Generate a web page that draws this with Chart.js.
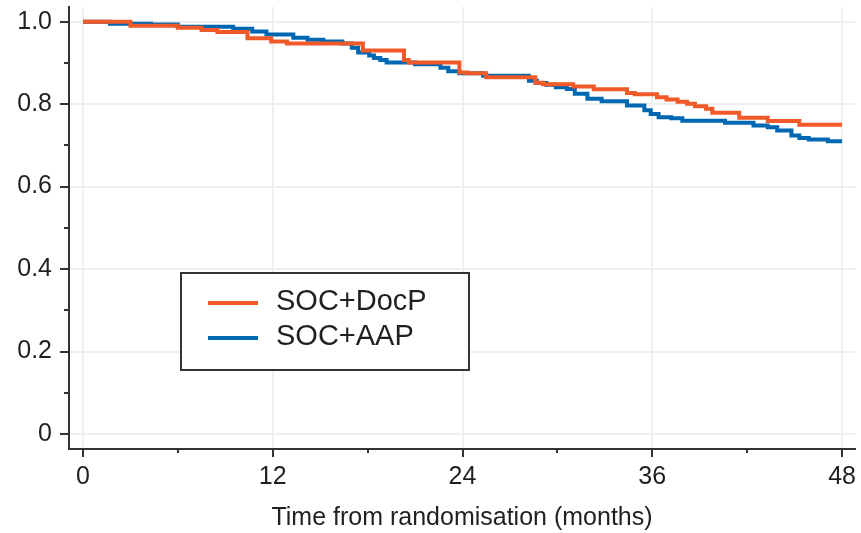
<!DOCTYPE html>
<html>
<head>
<meta charset="utf-8">
<script src="https://cdn.jsdelivr.net/npm/chart.js@4.4.0/dist/chart.umd.min.js"></script>
<style>
  body { margin: 0; background: #fff; }
  canvas { display: block; }
</style>
</head>
<body>
<canvas id="grafica" width="861" height="533"></canvas>
<script>
// DATOS (meses, supervivencia)
const docpMeses = [0, 3.0, 6.0, 7.5, 8.5, 10.4, 11.9, 12.9, 17.7, 20.3, 20.6, 23.8, 24.3, 25.5, 28.6, 29.1, 31.0, 32.3, 34.4, 34.9, 36.3, 36.9, 37.6, 38.2, 38.7, 39.4, 39.8, 41.5, 43.3, 45.3, 48];
const docpValores = [1.0, 0.99, 0.985, 0.98, 0.975, 0.96, 0.952, 0.947, 0.930, 0.907, 0.901, 0.877, 0.875, 0.865, 0.852, 0.848, 0.843, 0.836, 0.827, 0.824, 0.817, 0.811, 0.806, 0.801, 0.795, 0.789, 0.779, 0.767, 0.759, 0.750, 0.750];

const aapMeses = [0, 1.7, 4.3, 6.0, 9.5, 10.7, 11.6, 13.3, 14.2, 15.2, 16.4, 17.0, 17.4, 18.1, 18.4, 18.8, 19.2, 21.0, 22.6, 23.1, 23.8, 25.3, 28.2, 28.7, 29.3, 29.9, 30.6, 31.1, 31.9, 32.8, 34.4, 35.5, 35.9, 36.4, 37.2, 37.9, 40.6, 42.4, 43.3, 43.9, 44.8, 45.3, 45.9, 47.1, 48];
const aapValores = [1.0, 0.995, 0.993, 0.988, 0.983, 0.976, 0.969, 0.961, 0.956, 0.952, 0.947, 0.937, 0.925, 0.918, 0.912, 0.907, 0.901, 0.897, 0.888, 0.880, 0.875, 0.869, 0.857, 0.851, 0.847, 0.841, 0.837, 0.825, 0.813, 0.807, 0.797, 0.785, 0.776, 0.768, 0.766, 0.760, 0.755, 0.748, 0.744, 0.736, 0.724, 0.718, 0.714, 0.710, 0.710];

const series = ["SOC+DocP", "SOC+AAP"];
const colores = ["rgb(240,90,40)", "rgb(0,103,178)"];

const xTicks = [0, 12, 24, 36, 48];
const xMinor = [6, 18, 30, 42];
const yTicks = [0, 0.2, 0.4, 0.6, 0.8, 1.0];
const yMinor = [0.1, 0.3, 0.5, 0.7, 0.9];

const FUENTE = "'Liberation Sans', Arial, Helvetica, sans-serif";

function puntos(xs, ys) {
  return xs.map((x, i) => ({ x: x, y: ys[i] }));
}

// marcas de los ejes + leyenda
const extras = {
  id: 'extras',
  afterDraw(chart) {
    const ctx = chart.ctx;
    const ca = chart.chartArea;
    const sx = chart.scales.x, sy = chart.scales.y;
    ctx.save();
    ctx.strokeStyle = '#333';
    ctx.lineWidth = 2;
    ctx.beginPath();
    xTicks.forEach(v => { const p = Math.round(sx.getPixelForValue(v)); ctx.moveTo(p, ca.bottom); ctx.lineTo(p, ca.bottom + 8); });
    xMinor.forEach(v => { const p = Math.round(sx.getPixelForValue(v)); ctx.moveTo(p, ca.bottom); ctx.lineTo(p, ca.bottom + 4); });
    yTicks.forEach(v => { const p = Math.round(sy.getPixelForValue(v)); ctx.moveTo(ca.left, p); ctx.lineTo(ca.left - 9, p); });
    yMinor.forEach(v => { const p = Math.round(sy.getPixelForValue(v)); ctx.moveTo(ca.left, p); ctx.lineTo(ca.left - 5, p); });
    ctx.stroke();

    // leyenda
    ctx.fillStyle = '#fff';
    ctx.fillRect(181, 273, 288, 97);
    ctx.strokeStyle = '#333';
    ctx.lineWidth = 2;
    ctx.strokeRect(181, 273, 288, 97);
    const filas = [303, 338];
    chart.data.datasets.forEach((ds, i) => {
      ctx.strokeStyle = ds.borderColor;
      ctx.lineWidth = 4;
      ctx.beginPath();
      ctx.moveTo(208, filas[i]);
      ctx.lineTo(258, filas[i]);
      ctx.stroke();
      ctx.fillStyle = '#231f20';
      ctx.font = '29px ' + FUENTE;
      ctx.textBaseline = 'alphabetic';
      ctx.textAlign = 'left';
      ctx.fillText(ds.label, 276, filas[i] + 7);
    });
    ctx.restore();
  }
};

const micanvas = document.getElementById('grafica').getContext('2d');
const grafica = new Chart(micanvas, {
  type: 'line',
  data: {
    datasets: [
      { label: series[0], data: puntos(docpMeses, docpValores), borderColor: colores[0], backgroundColor: colores[0], borderWidth: 4, stepped: 'before', pointRadius: 0, fill: false },
      { label: series[1], data: puntos(aapMeses, aapValores), borderColor: colores[1], backgroundColor: colores[1], borderWidth: 4, stepped: 'before', pointRadius: 0, fill: false }
    ]
  },
  options: {
    responsive: false,
    animation: false,
    layout: { padding: { top: 7, right: 6, left: 0, bottom: 0 } },
    plugins: { legend: { display: false }, tooltip: { enabled: false } },
    scales: {
      x: {
        type: 'linear',
        min: -0.885,
        max: 48.82,
        afterBuildTicks: s => { s.ticks = xTicks.map(v => ({ value: v })); },
        afterFit: s => { s.height = 84; s.paddingLeft = 0; s.paddingRight = 0; },
        grid: { color: '#efefef', lineWidth: 2, drawTicks: false },
        border: { color: '#333', width: 2 },
        ticks: { color: '#231f20', font: { family: FUENTE, size: 25 }, padding: 13, autoSkip: false, maxRotation: 0 },
        title: { display: true, text: 'Time from randomisation (months)', color: '#231f20', font: { family: FUENTE, size: 25 }, padding: { top: 0, bottom: 0 } }
      },
      y: {
        min: -0.0364,
        max: 1.0356,
        afterBuildTicks: s => { s.ticks = yTicks.map(v => ({ value: v })); },
        afterFit: s => { s.width = 69; s.paddingTop = 0; s.paddingBottom = 0; },
        grid: { color: '#efefef', lineWidth: 2, drawTicks: false },
        border: { color: '#333', width: 2 },
        ticks: { color: '#231f20', font: { family: FUENTE, size: 25 }, padding: 17, autoSkip: false, callback: v => v === 0 ? '0' : v.toFixed(1) }
      }
    }
  },
  plugins: [extras]
});
</script>
</body>
</html>
